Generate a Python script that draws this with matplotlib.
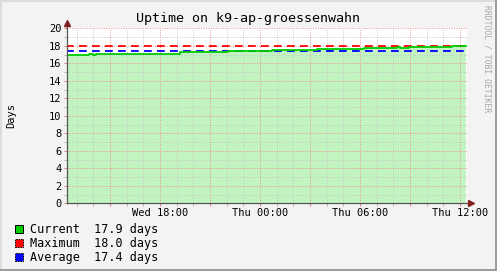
import matplotlib
matplotlib.use("Agg")
import matplotlib.pyplot as plt
from matplotlib.patches import Rectangle
from matplotlib.ticker import MultipleLocator, FuncFormatter

W, H = 497, 271
# hours since Wed 00:00
t_start, t_end = 12.39, 36.39
step_times = [12.39, 13.74, 13.98, 14.16, 16.50, 19.20, 22.08, 24.72, 27.42, 30.24, 32.22, 32.40, 32.94, 35.52]
uptime_days = [16.95, 17.03, 16.95, 17.03, 17.10, 17.26, 17.37, 17.49, 17.60, 17.71, 17.83, 17.71, 17.83, 17.94]
maximum_days = 18.0
average_days = 17.4
current_days = 17.9
legend_names = ["Current", "Maximum", "Average"]
legend_values = [current_days, maximum_days, average_days]
legend_colors = ["#00CC00", "#FF0000", "#0000FF"]
x_label_hours = {18: "Wed 18:00", 24: "Thu 00:00", 30: "Thu 06:00", 36: "Thu 12:00"}

plt.rcParams['font.family'] = ['DejaVu Sans Mono']
fig = plt.figure(figsize=(W/100, H/100), dpi=100, facecolor="#F3F3F3")

def fx(x): return x / W
def fy(y): return 1 - y / H

left, right, top, bottom = 66.5, 466.5, 28.3, 203.3
ax = fig.add_axes([fx(left), fy(bottom), (right-left)/W, (bottom-top)/H])
ax.set_facecolor("white")

tt = step_times + [t_end]
uu = uptime_days + [uptime_days[-1]]
ax.fill_between(tt, uu, 0, step="post", color="#C2F4C2", lw=0, zorder=1)
ax.step(tt, uu, where="post", color="#00CC00", lw=1.3, zorder=4)
ax.plot([t_start, t_end], [maximum_days]*2, color="#FF0000", lw=1.3, dashes=(4.3, 2.9), zorder=3)
ax.plot([t_start, t_end], [average_days]*2, color="#0000FF", lw=1.3, dashes=(4.3, 2.9), zorder=3)

ax.set_xlim(t_start, t_end)
ax.set_ylim(0, 20)
ax.xaxis.set_major_locator(MultipleLocator(3))
ax.xaxis.set_minor_locator(MultipleLocator(1))
ax.yaxis.set_major_locator(MultipleLocator(2))
ax.yaxis.set_minor_locator(MultipleLocator(1))
ax.xaxis.set_major_formatter(FuncFormatter(lambda v, p: x_label_hours.get(int(round(v)), "")))
ax.yaxis.set_major_formatter(FuncFormatter(lambda v, p: "%d" % v))
ax.grid(which="minor", color="#C8C8C8", lw=0.7, ls=(0, (1, 1.5)), zorder=2)
ax.grid(which="major", color="#F09090", lw=0.7, ls=(0, (1, 1.5)), zorder=2)
ax.set_axisbelow(False)
for s in ax.spines.values():
    s.set_visible(False)
ax.tick_params(axis="both", which="major", length=2, width=0.7, color="#E08080",
               labelsize=7.5, pad=1.5, labelcolor="black")
ax.tick_params(axis="both", which="minor", length=2, width=0.7, color="#B8B8B8")

# axes lines with arrows
ax.plot([0, 0], [0, 1.03], transform=ax.transAxes, color="#555555", lw=0.9, clip_on=False, zorder=6)
ax.plot([0, 1.01], [0, 0], transform=ax.transAxes, color="#555555", lw=0.9, clip_on=False, zorder=6)
ax.plot([0], [1.03], transform=ax.transAxes, marker="^", ms=4.5, color="#802020", clip_on=False, zorder=7)
ax.plot([1.01], [0], transform=ax.transAxes, marker=">", ms=4.5, color="#802020", clip_on=False, zorder=7)

fig.text(fx(248), fy(19), "Uptime on k9-ap-groessenwahn", fontsize=9.6, ha="center", va="center")
fig.text(fx(11), fy(115), "Days", fontsize=7.5, rotation=90, ha="center", va="center")
fig.text(fx(487), fy(5), "RRDTOOL / TOBI OETIKER", fontsize=5.8, rotation=270,
         ha="center", va="top", color="#A8A8A8")

rows_y = [229, 243, 257]
for name, val, col, y in zip(legend_names, legend_values, legend_colors, rows_y):
    ls = "-" if name == "Current" else (0, (1.5, 1))
    fig.patches.append(Rectangle((fx(15), fy(y + 4.3)), 8/W, 8.6/H, transform=fig.transFigure,
                                 facecolor=col, edgecolor="black", lw=0.7, ls=ls))
    fig.text(fx(30), fy(y), "%-9s%4.1f days" % (name, val), fontsize=8.5, ha="left", va="center")

# 3D frame
fig.patches.append(Rectangle((0, 0), 2/W, 1, transform=fig.transFigure, facecolor="#DCDCDC", lw=0))
fig.patches.append(Rectangle((0, 1-2/H), 1, 2/H, transform=fig.transFigure, facecolor="#DCDCDC", lw=0))
fig.patches.append(Rectangle((1-2/W, 0), 2/W, 1, transform=fig.transFigure, facecolor="#9C9C9C", lw=0))
fig.patches.append(Rectangle((0, 0), 1, 2/H, transform=fig.transFigure, facecolor="#9C9C9C", lw=0))

fig.savefig("out.png", dpi=100, facecolor=fig.get_facecolor())
